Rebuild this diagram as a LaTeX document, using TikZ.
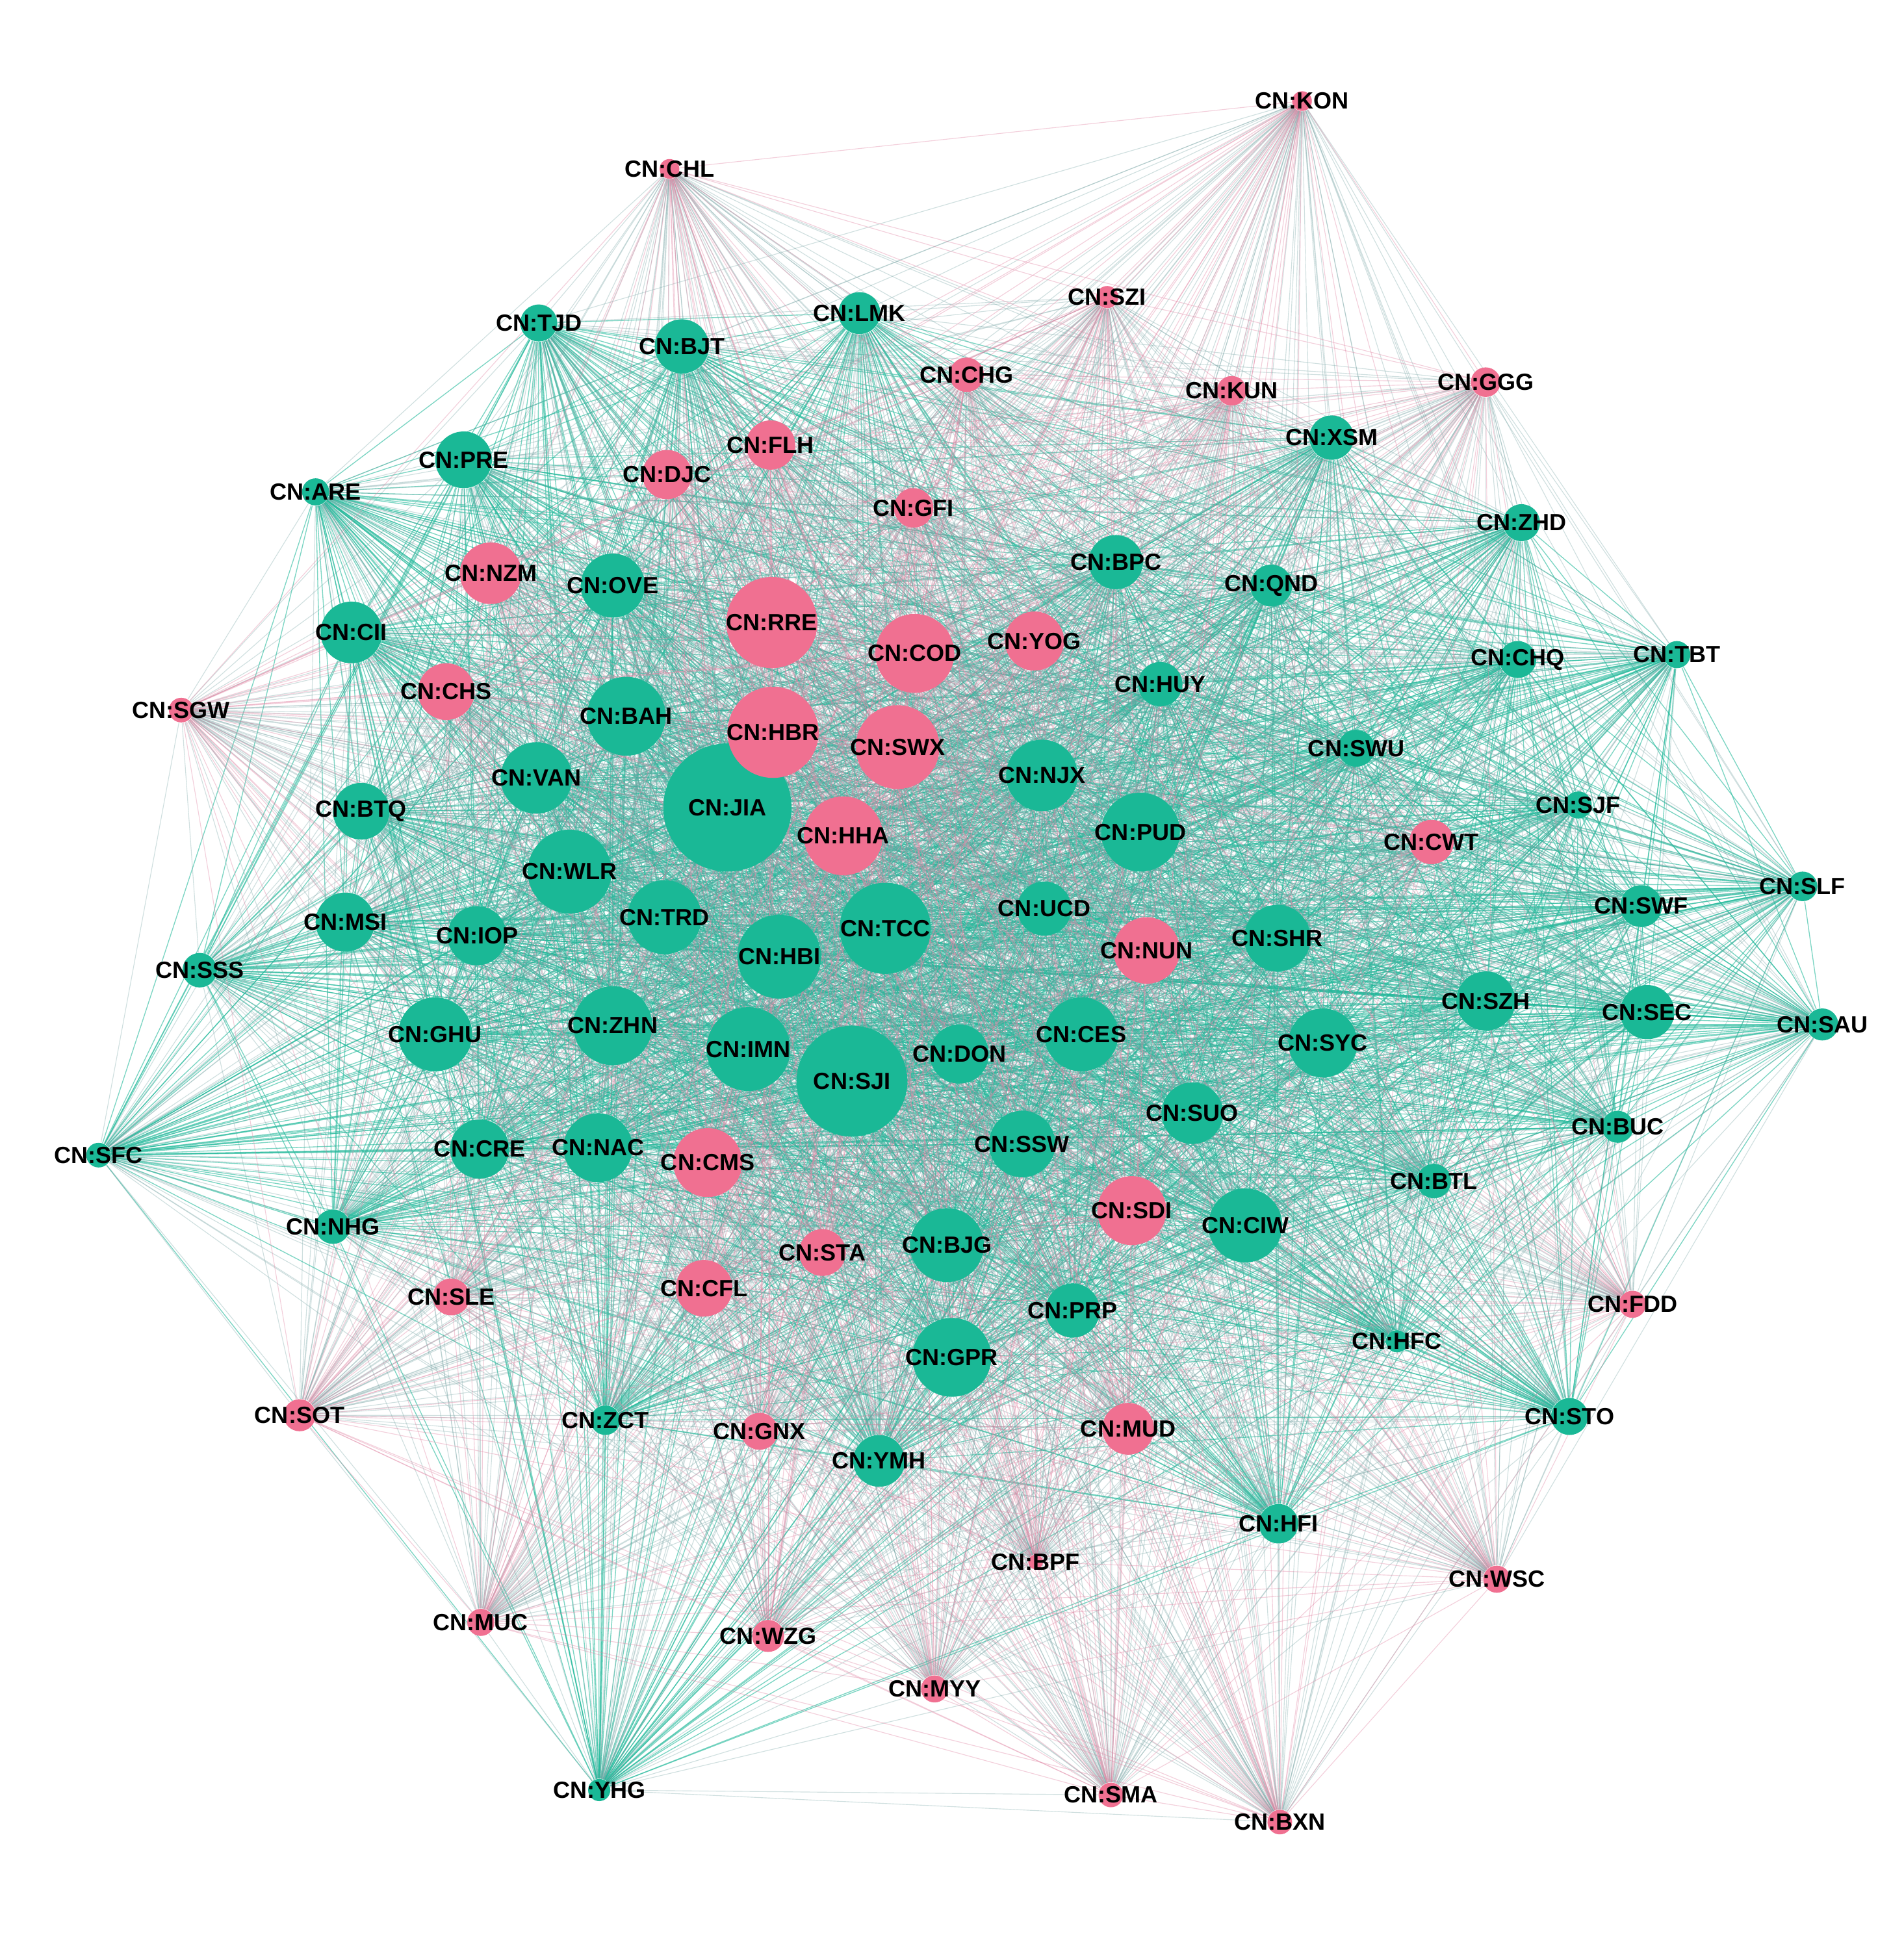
\documentclass[tikz,border=0pt]{standalone}
\usepackage{fontspec}
\setmainfont{Liberation Sans}
\pgfdeclarelayer{bg}
\pgfsetlayers{bg,main}
\definecolor{tnode}{RGB}{26,184,150}
\definecolor{pnode}{RGB}{240,112,145}
\definecolor{tedge}{RGB}{35,185,155}
\definecolor{medge}{RGB}{120,165,165}
\definecolor{pedge}{RGB}{225,135,165}
\def\tlist{TJD/437/262/15,BJT/553/281/22,LMK/697/254/17,XSM/1080/355/18,PRE/376/373/23,ARE/256/399/11,ZHD/1234/424/15,OVE/497/475/26,BPC/905/456/22,QND/1031/475/17,CII/285/513/25,HUY/941/555/18,CHQ/1231/535/15,TBT/1360/531/11,BAH/508/581/32,SWU/1100/607/15,VAN/435/631/29,NJX/845/629/29,BTQ/293/658/23,JIA/590/655/52,SJF/1280/653/11,PUD/925/675/32,WLR/462/707/34,SLF/1462/719/12,UCD/847/737/22,SWF/1331/735/17,MSI/280/748/24,TRD/539/744/30,TCC/718/753/37,IOP/387/759/24,SHR/1036/761/27,HBI/632/776/34,SSS/162/787/14,SZH/1205/812/24,SEC/1336/821/22,SAU/1478/831/13,GHU/353/839/30,ZHN/497/832/32,IMN/607/851/34,DON/778/855/24,CES/877/839/30,SJI/691/877/45,SYC/1073/846/28,SUO/967/903/25,BUC/1312/914/13,SFC/80/937/10,CRE/389/932/24,NAC/485/931/28,SSW/829/928/27,BTL/1163/958/14,CIW/1010/994/30,NHG/270/995/14,BJG/768/1010/30,PRP/870/1063/22,HFC/1133/1088/9,GPR/772/1101/32,ZCT/491/1152/12,STO/1273/1149/15,YMH/713/1185/21,HFI/1037/1236/16,YHG/486/1452/9}
\def\plist{KON/1056/82/8,CHL/543/137/8,SZI/898/241/9,CHG/784/304/14,KUN/999/317/12,GGG/1205/310/12,FLH/625/361/20,DJC/541/385/20,GFI/741/412/16,NZM/398/465/25,RRE/626/505/37,COD/742/530/32,YOG/839/520/24,CHS/362/561/23,SGW/147/576/10,HBR/627/594/37,SWX/728/606/34,HHA/684/678/32,CWT/1161/683/18,NUN/930/771/27,CMS/574/943/28,SDI/918/982/28,STA/667/1016/19,CFL/571/1045/23,SLE/366/1052/15,FDD/1324/1058/11,SOT/243/1148/13,GNX/616/1161/15,MUD/915/1159/21,BPF/840/1267/6,WSC/1214/1281/11,MUC/390/1316/11,WZG/623/1327/13,MYY/758/1370/11,SMA/901/1456/10,BXN/1038/1478/10}
\begin{document}
\begin{tikzpicture}[x=0.5pt,y=-0.5pt,
  nd/.style={circle,inner sep=0pt,minimum size=#1pt},
  lab/.style={font=\fontsize{9.5}{10}\selectfont\bfseries,text=black,inner sep=0pt},
  tt/.style={draw=tedge,line width=0.35pt,opacity=0.6},
  tp/.style={draw=medge,line width=0.3pt,opacity=0.35},
  pp/.style={draw=pedge,line width=0.3pt,opacity=0.4}]
\useasboundingbox (0,0) rectangle (1544,1568);
% nodes
\foreach \n/\x/\y/\r in \tlist {\node[nd=\r,fill=tnode] (\n) at (\x,\y) {};}
\foreach \n/\x/\y/\r in \plist {\node[nd=\r,fill=pnode] (\n) at (\x,\y) {};}
% edges
\begin{pgfonlayer}{bg}
\fill[white] (0,0) rectangle (1544,1568);
\foreach \a/\ax/\ay/\ar [count=\i] in \tlist {
  \foreach \b/\bx/\by/\br [count=\j] in \tlist {
    \ifnum\j>\i \draw[tt] (\a) -- (\b); \fi
  }
  \foreach \b/\bx/\by/\br in \plist {
    \draw[tp] (\a) -- (\b);
  }
}
\foreach \a/\ax/\ay/\ar [count=\i] in \plist {
  \foreach \b/\bx/\by/\br [count=\j] in \plist {
    \ifnum\j>\i \draw[pp] (\a) -- (\b); \fi
  }
}
\end{pgfonlayer}
% labels
\foreach \n/\x/\y/\r in \tlist {\node[lab] (L\n) at (\n) {CN:\n};}
\foreach \n/\x/\y/\r in \plist {\node[lab] (L\n) at (\n) {CN:\n};}
\end{tikzpicture}
\end{document}
